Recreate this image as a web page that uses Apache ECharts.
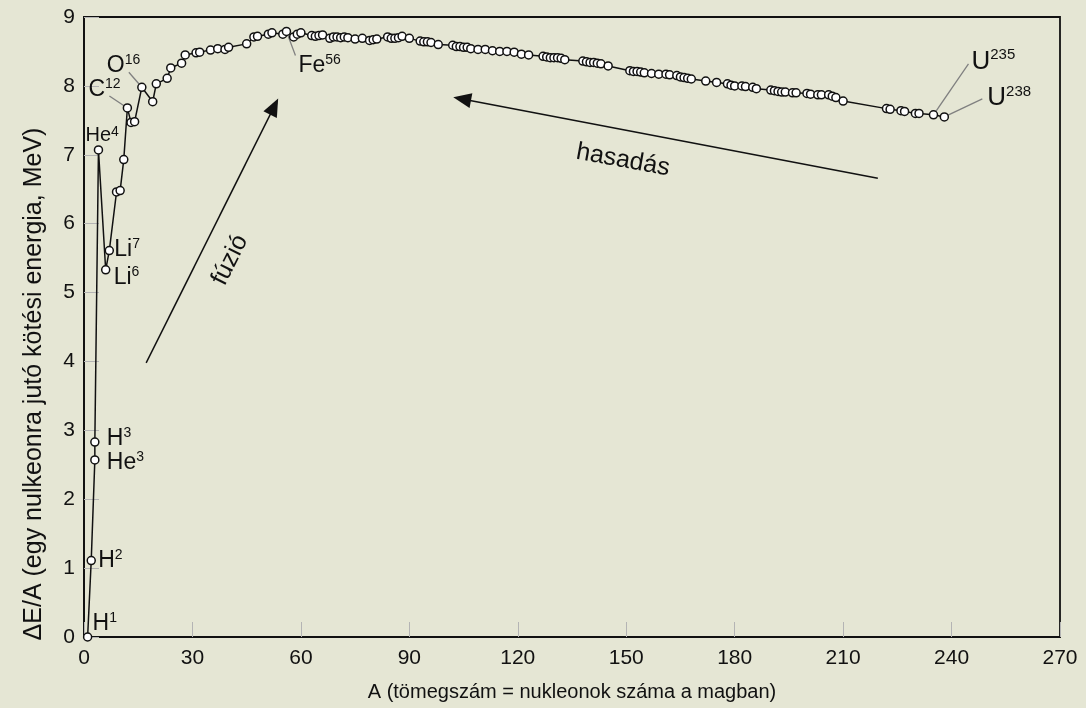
<!DOCTYPE html>
<head>
	<meta charset="utf-8">
	<title>Kötési energia</title>
	<script src="https://cdn.jsdelivr.net/npm/echarts@6/dist/echarts.min.js"></script>
</head>
<body style="margin:0; background:#e5e6d4">
	<div id="main" style="width:1086px; height:708px"></div>
	<script type="text/javascript">
	// tömegszám (A) és egy nukleonra jutó kötési energia (MeV)
	var massNumber = [1, 2, 3, 3, 4, 6, 7, 9, 10, 11, 12, 13, 14, 16, 19, 20, 23, 24, 27, 28,
		31, 32, 35, 37, 39, 40, 45, 47, 48, 51, 52, 55, 56, 58, 59, 60, 63, 64, 65, 66,
		68, 69, 70, 71, 72, 73, 75, 77, 79, 80, 81, 84, 85, 86, 87, 88, 90, 93, 94, 95,
		96, 98, 102, 103, 104, 105, 106, 107, 109, 111, 113, 115, 117, 119, 121, 123,
		127, 128, 129, 130, 131, 132, 133, 138, 139, 140, 141, 142, 143, 145,
		151, 152, 153, 154, 155, 157, 159, 161, 162, 164, 165, 166, 167, 168,
		172, 175, 178, 179, 180, 182, 183, 185, 186, 190, 191, 192, 193, 194, 196, 197,
		200, 201, 203, 204, 206, 207, 208, 210, 222, 223, 226, 227, 230, 231, 235, 238];
	var bindingEnergy = [0, 1.11, 2.57, 2.83, 7.07, 5.33, 5.61, 6.46, 6.48, 6.93, 7.68, 7.47, 7.48, 7.98, 7.77, 8.03, 8.11, 8.26, 8.33, 8.45,
		8.48, 8.49, 8.52, 8.54, 8.53, 8.56, 8.61, 8.71, 8.72, 8.75, 8.77, 8.75, 8.79, 8.71, 8.75, 8.77, 8.73, 8.72, 8.73, 8.74,
		8.69, 8.71, 8.71, 8.70, 8.71, 8.70, 8.68, 8.69, 8.66, 8.67, 8.68, 8.71, 8.69, 8.69, 8.70, 8.72, 8.69, 8.65, 8.64, 8.64,
		8.63, 8.60, 8.59, 8.57, 8.57, 8.56, 8.56, 8.54, 8.53, 8.53, 8.51, 8.50, 8.50, 8.49, 8.46, 8.45,
		8.43, 8.42, 8.41, 8.41, 8.41, 8.40, 8.38, 8.36, 8.35, 8.34, 8.34, 8.33, 8.32, 8.29,
		8.22, 8.21, 8.21, 8.20, 8.19, 8.18, 8.17, 8.17, 8.16, 8.15, 8.13, 8.12, 8.11, 8.10,
		8.07, 8.05, 8.03, 8.01, 8.00, 8.00, 7.99, 7.98, 7.96, 7.94, 7.93, 7.92, 7.91, 7.91, 7.90, 7.90,
		7.89, 7.88, 7.87, 7.87, 7.87, 7.85, 7.83, 7.78, 7.67, 7.66, 7.64, 7.63, 7.60, 7.60, 7.58, 7.55];

	// tengelyek
	var xTicks = [0, 30, 60, 90, 120, 150, 180, 210, 240, 270];
	var yTicks = [0, 1, 2, 3, 4, 5, 6, 7, 8, 9];

	// megjelölt izotópok: vegyjel, tömegszám, és az A érték a fenti tömbben
	var isoSymbol = ['H', 'H', 'H', 'He', 'He', 'Li', 'Li', 'C', 'O', 'Fe', 'U', 'U'];
	var isoMass = ['1', '2', '3', '3', '4', '6', '7', '12', '16', '56', '235', '238'];
	var isoA = [1, 2, 3, 3, 4, 6, 7, 12, 16, 56, 235, 238];

	// címkék elhelyezése (px, a ponthoz képest) és vezetővonalak
	var isoOffset = [[5, -13], [7, 0], [12, -3], [12, 3], [-13, -14], [8, 8], [5, -1],
		[-39, -18], [-35, -22], [12, 34], [38, -53], [43, -19]];
	var isoLeader = [null, null, null, null, null, null, null,
		[-18, -12], [-13, -15], [9, 24], [35, -51], [38, -18]];

	// nyilak (adatkoordinátában)
	var fusionArrow = [[17.2, 3.98], [52.6, 7.7]];
	var fissionArrow = [[219.6, 6.66], [104.6, 7.81]];

	var FONT = '"Liberation Sans", Arial, sans-serif';
	var BG = '#e5e6d4';

	var points = massNumber.map(function (a, i) { return [a, bindingEnergy[i]]; });

	var myChart = echarts.init(document.getElementById('main'));
	var option = {
		backgroundColor: BG,
		animation: false,
		grid: {
			left: 84, right: 26, top: 17, bottom: 71,
			show: true,
			borderColor: '#111',
			borderWidth: 1.8,
			backgroundColor: BG
		},
		xAxis: {
			type: 'value',
			min: 0, max: 270, interval: 30,
			name: 'A (tömegszám = nukleonok száma a magban)',
			nameLocation: 'middle',
			nameGap: 45,
			nameTextStyle: { color: '#111', fontSize: 20, fontFamily: FONT },
			axisLine: { onZero: false, lineStyle: { color: '#111', width: 1.8 } },
			axisTick: { inside: true, length: 15, lineStyle: { color: '#b4b4b4', width: 1 } },
			axisLabel: { color: '#111', fontSize: 21, fontFamily: FONT, margin: 11,
				formatter: function (v) { return xTicks.indexOf(v) >= 0 ? String(v) : ''; } },
			splitLine: { show: false }
		},
		yAxis: {
			type: 'value',
			min: 0, max: 9, interval: 1,
			name: 'ΔE/A (egy nulkeonra jutó kötési energia, MeV)',
			nameLocation: 'middle',
			nameGap: 37,
			nameTextStyle: { color: '#111', fontSize: 25, fontFamily: FONT, padding: [0, 114, 0, 0] },
			axisLine: { onZero: false, lineStyle: { color: '#111', width: 1.8 } },
			axisTick: { inside: true, length: 15, lineStyle: { color: '#b4b4b4', width: 1 } },
			axisLabel: { color: '#111', fontSize: 21, fontFamily: FONT, margin: 9,
				formatter: function (v) { return yTicks.indexOf(v) >= 0 ? String(v) : ''; } },
			splitLine: { show: false }
		},
		series: [
			{
				name: 'kötési energia',
				type: 'line',
				data: points,
				symbol: 'circle',
				symbolSize: 8,
				lineStyle: { color: '#111', width: 1.5 },
				itemStyle: { color: '#fff', borderColor: '#111', borderWidth: 1.5 },
				z: 5,
				markLine: {
					silent: true,
					symbol: ['none', 'triangle'],
					symbolSize: [15, 18],
					label: { show: false },
					lineStyle: { color: '#111', width: 1.5, type: 'solid' },
					itemStyle: { color: '#111' },
					data: [
						[{ coord: fusionArrow[0] }, { coord: fusionArrow[1] }],
						[{ coord: fissionArrow[0] }, { coord: fissionArrow[1] }]
					]
				}
			}
		]
	};
	myChart.setOption(option);

	// izotóp-címkék, vezetővonalak és a nyilak felirata
	var elements = [];
	isoA.forEach(function (a, k) {
		// a H3 a második 3-as tömegszámú pont
		var idx = (isoSymbol[k] === 'H' && a === 3) ? massNumber.lastIndexOf(a) : massNumber.indexOf(a);
		var p = myChart.convertToPixel({ gridIndex: 0 }, points[idx]);
		var big = isoSymbol[k] === 'U' ? 26 : (k === 4 ? 20 : 23);
		var small = isoSymbol[k] === 'U' ? 15 : 14;
		if (isoLeader[k]) {
			elements.push({
				type: 'line', silent: true, z: 4,
				shape: { x1: p[0], y1: p[1], x2: p[0] + isoLeader[k][0], y2: p[1] + isoLeader[k][1] },
				style: { stroke: '#808080', lineWidth: 1.3 }
			});
		}
		elements.push({
			type: 'text', silent: true, z: 6,
			x: p[0] + isoOffset[k][0], y: p[1] + isoOffset[k][1],
			style: {
				text: '{b|' + isoSymbol[k] + '}{s|' + isoMass[k] + '}',
				verticalAlign: 'middle', align: 'left',
				rich: {
					b: { fontSize: big, fontFamily: FONT, fill: '#111', lineHeight: big + 2 },
					s: { fontSize: small, fontFamily: FONT, fill: '#111', verticalAlign: 'top', lineHeight: big + 2, padding: [0, 0, 11, 0] }
				}
			}
		});
	});

	var f0 = myChart.convertToPixel({ gridIndex: 0 }, [40.4, 5.47]);
	elements.push({
		type: 'text', silent: true, x: f0[0], y: f0[1], rotation: 1.107,
		style: { text: 'fúzió', fontSize: 25, fontFamily: FONT, fill: '#111', align: 'center', verticalAlign: 'middle' }
	});
	var h0 = myChart.convertToPixel({ gridIndex: 0 }, [149.1, 6.92]);
	elements.push({
		type: 'text', silent: true, x: h0[0], y: h0[1], rotation: -0.18,
		style: { text: 'hasadás', fontSize: 25, fontFamily: FONT, fill: '#111', align: 'center', verticalAlign: 'middle' }
	});
	myChart.setOption({ graphic: elements });
	</script>
</body>
